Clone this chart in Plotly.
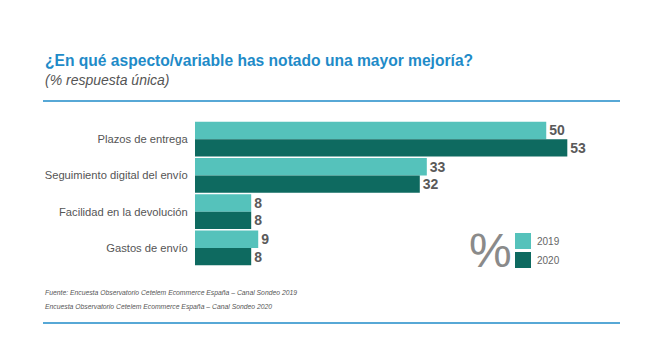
import plotly.graph_objects as go

categories = ["Plazos de entrega", "Seguimiento digital del envío", "Facilidad en la devolución", "Gastos de envío"]
values_2019 = [50, 33, 8, 9]
values_2020 = [53, 32, 8, 8]
series_names = ["2019", "2020"]
colors = ["#55C2BB", "#0E6A60"]

W, H = 655, 339
L, R, T, B = 195, 35, 121, 73

fig = go.Figure()
for name, vals, col in zip(series_names, [values_2019, values_2020], colors):
    fig.add_trace(go.Bar(
        y=categories, x=vals, name=name, orientation="h",
        marker=dict(color=col, line=dict(width=0)),
        text=vals, textposition="outside", texttemplate="<b>%{x}</b>",
        textfont=dict(family="Liberation Sans, Arial", size=14, color="#5a5a5a"),
        cliponaxis=False,
    ))

fig.update_layout(
    width=W, height=H,
    margin=dict(l=L, r=R, t=T, b=B),
    paper_bgcolor="white", plot_bgcolor="white",
    barmode="group", bargap=0.04, bargroupgap=0,
    showlegend=False,
    font=dict(family="Liberation Sans, Arial", color="#555555"),
    xaxis=dict(range=[0, 60.5], visible=False, fixedrange=True),
    yaxis=dict(autorange="reversed", showgrid=False, showline=False, zeroline=False,
               ticks="outside", ticklen=4, tickcolor="rgba(0,0,0,0)",
               tickfont=dict(size=11.2, color="#555555")),
)

pw, ph = W - L - R, H - T - B
def ax(p):
    return (p - L) / pw
def ay(p):
    return (H - B - p) / ph

# Title and subtitle
fig.add_annotation(xref="paper", yref="paper", x=ax(43), y=ay(60),
                   text="<b>¿En qué aspecto/variable has notado una mayor mejoría?</b>",
                   showarrow=False, xanchor="left", yanchor="middle",
                   font=dict(size=15.6, color="#1F8BC8"))
fig.add_annotation(xref="paper", yref="paper", x=ax(43), y=ay(80),
                   text="<i>(% respuesta única)</i>",
                   showarrow=False, xanchor="left", yanchor="middle",
                   font=dict(size=14, color="#555555"))

# separator lines
for yy in [101, 323]:
    fig.add_shape(type="line", xref="paper", yref="paper",
                  x0=ax(43), x1=ax(620), y0=ay(yy), y1=ay(yy),
                  line=dict(color="#1F8BC8", width=1.5))

# footnotes
foot = ["Fuente: Encuesta Observatorio Cetelem Ecommerce España – Canal Sondeo 2019",
        "Encuesta Observatorio Cetelem Ecommerce España – Canal Sondeo 2020"]
for i, t in enumerate(foot):
    fig.add_annotation(xref="paper", yref="paper", x=ax(43), y=ay(293 + 14 * i),
                       text="<i>" + t + "</i>", showarrow=False, xanchor="left", yanchor="middle",
                       font=dict(size=6.8, color="#555555"))

# legend
fig.add_annotation(xref="paper", yref="paper", x=ax(490), y=ay(250),
                   text="%", showarrow=False, xanchor="center", yanchor="middle",
                   font=dict(size=48, color="#8a8a8a", family="DejaVu Sans ExtraLight, Liberation Sans, Arial"))
for i, (name, col) in enumerate(zip(series_names, colors)):
    y0 = 233 + 19 * i
    fig.add_shape(type="rect", xref="paper", yref="paper",
                  x0=ax(515), x1=ax(531), y0=ay(y0), y1=ay(y0 + 16),
                  fillcolor=col, line=dict(width=0))
    fig.add_annotation(xref="paper", yref="paper", x=ax(535), y=ay(y0 + 8),
                       text=name, showarrow=False, xanchor="left", yanchor="middle",
                       font=dict(size=10, color="#666666"))

fig.write_html("out.html")
